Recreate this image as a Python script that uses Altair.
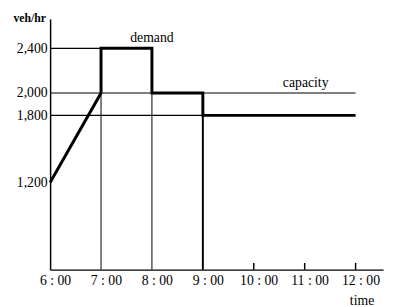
import altair as alt
import pandas as pd

# demand profile (hours, veh/hr)
demand_times = [6, 7, 7, 8, 8, 9, 9, 12]
demand_values = [1200, 2000, 2400, 2400, 2000, 2000, 1800, 1800]

# thin horizontal guide lines (start at 6:00)
h_values = [2400, 2000, 1800]
h_ends = [7, 12, 9]

# vertical guide lines (from bottom)
v_times = [7, 8, 9]
v_tops = [2000, 2000, 1800]
v_widths = [1, 1, 2]

tick_times = [10, 11, 12]
y_ticks = [1200, 1800, 2000, 2400]
x_ticks = [6, 7, 8, 9, 10, 11, 12]

labels = ["demand", "capacity"]
label_x = [8.0, 11.02]
label_y = [2496, 2093]

YMIN, YMAX = 420, 2663
XMIN, XMAX = 6, 12.54
FONT = "Liberation Serif"

xs = alt.Scale(domain=[XMIN, XMAX], nice=False, zero=False)
ys = alt.Scale(domain=[YMIN, YMAX], nice=False, zero=False)

demand_df = pd.DataFrame({"t": demand_times, "v": demand_values, "o": list(range(len(demand_times)))})
h_df = pd.DataFrame({"t0": [6] * len(h_values), "t1": h_ends, "v": h_values})
v_df = pd.DataFrame({"t": v_times, "v0": [YMIN] * len(v_times), "v1": v_tops, "w": v_widths})
tick_df = pd.DataFrame({"t": tick_times, "v0": [YMIN] * 3, "v1": [YMIN + 60] * 3})
lab_df = pd.DataFrame({"t": label_x, "v": label_y, "text": labels})

x_axis = alt.Axis(values=x_ticks, labelExpr="floor(datum.value) + ' : 00'", ticks=False, grid=False,
                  domainColor="black", domainWidth=1.5, labelFont=FONT, labelFontSize=14,
                  labelColor="black", labelPadding=4, labelOffset=5, labelFlush=False,
                  title="time", titleFont=FONT, titleFontSize=14, titleFontWeight="normal",
                  titleX=318, titleY=25, titleBaseline="top", titleColor="black")
y_axis = alt.Axis(values=y_ticks, labelExpr="format(datum.value, ',')", ticks=False, grid=False,
                  domainColor="black", domainWidth=1.5, labelFont=FONT, labelFontSize=14,
                  labelColor="black", labelPadding=3,
                  title="veh/hr", titleFont=FONT, titleFontSize=12, titleFontWeight="bold",
                  titleAngle=0, titleX=-38, titleY=-1, titleAlign="left", titleBaseline="middle",
                  titleColor="black")

base_axes = alt.Chart(demand_df).mark_line(color="black", strokeWidth=3).encode(
    x=alt.X("t:Q", scale=xs, axis=x_axis),
    y=alt.Y("v:Q", scale=ys, axis=y_axis),
    order="o:Q",
)

hlines = alt.Chart(h_df).mark_rule(color="black", strokeWidth=1.2).encode(
    x=alt.X("t0:Q", scale=xs), x2="t1:Q", y=alt.Y("v:Q", scale=ys))

vlines = alt.Chart(v_df).mark_rule(color="black").encode(
    x=alt.X("t:Q", scale=xs), y=alt.Y("v0:Q", scale=ys), y2="v1:Q",
    strokeWidth=alt.StrokeWidth("w:Q", scale=None, legend=None))

ticks = alt.Chart(tick_df).mark_rule(color="black", strokeWidth=1.5).encode(
    x=alt.X("t:Q", scale=xs), y=alt.Y("v0:Q", scale=ys), y2="v1:Q")

texts = alt.Chart(lab_df).mark_text(font=FONT, fontSize=14, color="black").encode(
    x=alt.X("t:Q", scale=xs), y=alt.Y("v:Q", scale=ys), text="text:N")

chart = alt.layer(hlines, vlines, ticks, base_axes, texts).properties(
    width=340, height=256,
    autosize=alt.AutoSizeParams(type="none"),
    padding={"left": 43, "top": 8, "right": 4, "bottom": 35},
).configure_view(stroke=None)

chart.save("out.html", embed_options={"renderer": "svg", "actions": False})
